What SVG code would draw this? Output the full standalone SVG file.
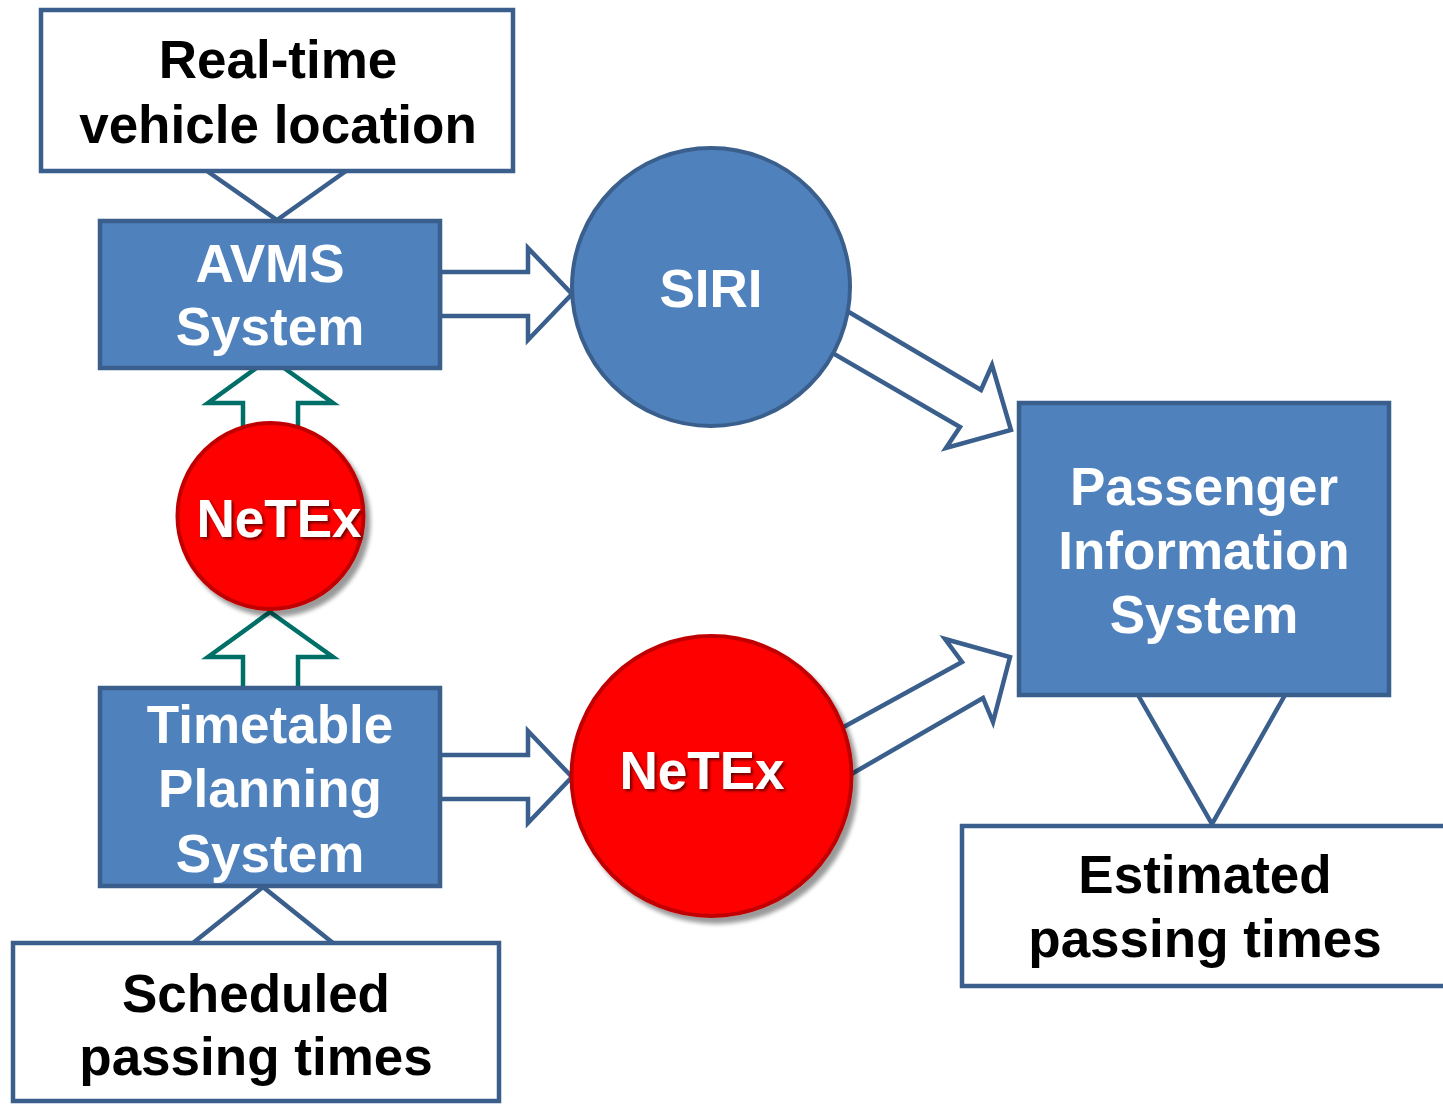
<svg xmlns="http://www.w3.org/2000/svg" width="1443" height="1104" viewBox="0 0 1443 1104">
<defs>
<style>
.lbl{font-family:"Liberation Sans",Arial,sans-serif;font-weight:bold;font-size:53px;text-anchor:middle;}
.dark{fill:#000;}
.light{fill:#fff;}
.wbox{fill:#fff;stroke:#3A5F8C;stroke-width:4.5;}
.bbox{fill:#4F81BD;stroke:#3A5F8C;stroke-width:4.5;}
.bcirc{fill:#4F81BD;stroke:#3A5F8C;stroke-width:4;}
.rcirc{fill:#FF0000;stroke:#C00000;stroke-width:4;}
.barrow{fill:#fff;stroke:#3A5F8C;stroke-width:4.5;stroke-linejoin:miter;}
.garrow{fill:#fff;stroke:#006F68;stroke-width:4.5;stroke-linejoin:miter;}
.line{fill:none;stroke:#3A5F8C;stroke-width:4.5;}
</style>
<filter id="shadow" x="-20%" y="-20%" width="140%" height="140%">
<feGaussianBlur in="SourceAlpha" stdDeviation="2"/>
<feOffset dx="5" dy="6" result="o"/>
<feComponentTransfer><feFuncA type="linear" slope="0.4"/></feComponentTransfer>
<feMerge><feMergeNode/><feMergeNode in="SourceGraphic"/></feMerge>
</filter>
<filter id="tshadow" x="-10%" y="-20%" width="120%" height="140%">
<feGaussianBlur in="SourceAlpha" stdDeviation="1.5"/>
<feOffset dx="2" dy="2" result="o"/>
<feComponentTransfer><feFuncA type="linear" slope="0.6"/></feComponentTransfer>
<feMerge><feMergeNode/><feMergeNode in="SourceGraphic"/></feMerge>
</filter>
</defs>
<rect width="1443" height="1104" fill="#fff"/>

<g id="connectors">
<polyline class="line" points="207,171 277,220 346,171"/>
<polyline class="line" points="193,943 263,887 333,943"/>
<polyline class="line" points="1138,695 1212,824 1285,695"/>
<polygon class="barrow" points="440,272 528,272 528,248 572,294 528,340 528,316 440,316"/>
<polygon class="barrow" points="440,755 528,755 528,731 572,777 528,823 528,799 440,799"/>
<polygon class="barrow" points="820,295 981,390 992,365 1011,430 946,448 960,427 810,340"/>
<polygon class="barrow" points="800,751 962,662 945,639 1010,657 993,722 983,698 810,798"/>
<polygon class="garrow" points="243,430 243,403 208,403 270,358 333,403 298,403 298,430"/>
<polygon class="garrow" points="243,689 243,657 208,657 270,612 333,657 298,657 298,689"/>
</g>

<g id="realtime">
<rect class="wbox" x="41" y="10" width="472" height="161"/>
<text class="lbl dark" x="278" y="78">Real-time</text>
<text class="lbl dark" x="278" y="143">vehicle location</text>
</g>

<g id="avms">
<rect class="bbox" x="100" y="221" width="340" height="147"/>
<text class="lbl light" x="270" y="282">AVMS</text>
<text class="lbl light" x="270" y="345">System</text>
</g>

<g id="siri">
<circle class="bcirc" cx="711" cy="287" r="139"/>
<text class="lbl light" x="711" y="307">SIRI</text>
</g>

<g id="netex-small">
<circle class="rcirc" cx="270.5" cy="516" r="93" filter="url(#shadow)"/>
<text class="lbl light" x="279" y="537" filter="url(#tshadow)">NeTEx</text>
</g>

<g id="timetable">
<rect class="bbox" x="100" y="688" width="340" height="198"/>
<text class="lbl light" x="270" y="743">Timetable</text>
<text class="lbl light" x="270" y="807">Planning</text>
<text class="lbl light" x="270" y="872">System</text>
</g>

<g id="netex-large">
<circle class="rcirc" cx="711.5" cy="776" r="140" filter="url(#shadow)"/>
<text class="lbl light" x="702" y="789" filter="url(#tshadow)">NeTEx</text>
</g>

<g id="pis">
<rect class="bbox" x="1019" y="403" width="370" height="292"/>
<text class="lbl light" x="1204" y="505">Passenger</text>
<text class="lbl light" x="1204" y="569">Information</text>
<text class="lbl light" x="1204" y="633">System</text>
</g>

<g id="estimated">
<rect class="wbox" x="962" y="826" width="490" height="160"/>
<text class="lbl dark" x="1205" y="893">Estimated</text>
<text class="lbl dark" x="1205" y="957">passing times</text>
</g>

<g id="scheduled">
<rect class="wbox" x="13" y="943" width="486" height="158"/>
<text class="lbl dark" x="256" y="1012">Scheduled</text>
<text class="lbl dark" x="256" y="1075">passing times</text>
</g>
</svg>
